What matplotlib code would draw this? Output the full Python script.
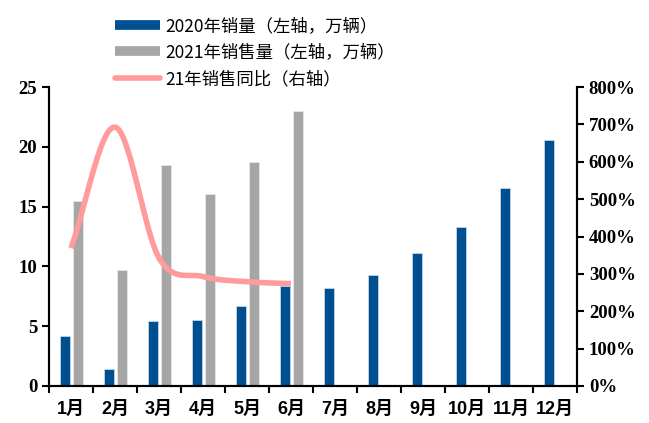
import numpy as np
import matplotlib.pyplot as plt
from matplotlib.lines import Line2D

months = ['1月', '2月', '3月', '4月', '5月', '6月', '7月', '8月', '9月', '10月', '11月', '12月']
sales_2020 = [4.2, 1.4, 5.4, 5.5, 6.7, 8.4, 8.2, 9.3, 11.1, 13.3, 16.6, 20.6]
sales_2021 = [15.5, 9.7, 18.5, 16.1, 18.7, 23.0]
ratio_2021 = [3.69, 6.93, 3.43, 2.93, 2.79, 2.74]

blue = '#00508F'
gray = '#A6A6A6'
pink = '#FF9B9B'


def catmull_rom(x, y, n=30):
    # smooth line like the spreadsheet's "smoothed line" option
    x = np.asarray(x, float)
    y = np.asarray(y, float)
    px = np.concatenate([[2 * x[0] - x[1]], x, [2 * x[-1] - x[-2]]])
    py = np.concatenate([[2 * y[0] - y[1]], y, [2 * y[-1] - y[-2]]])
    xs, ys = [], []
    t = np.linspace(0, 1, n)
    for i in range(1, len(px) - 2):
        for p, out in ((px, xs), (py, ys)):
            p0, p1, p2, p3 = p[i - 1], p[i], p[i + 1], p[i + 2]
            out.extend(0.5 * (2 * p1 + (-p0 + p2) * t
                              + (2 * p0 - 5 * p1 + 4 * p2 - p3) * t ** 2
                              + (-p0 + 3 * p1 - 3 * p2 + p3) * t ** 3))
    return np.array(xs), np.array(ys)


plt.rcParams['font.family'] = ['Liberation Serif', 'Noto Sans CJK SC']

fig = plt.figure(figsize=(6.49, 4.23), dpi=100)
ax = fig.add_axes([0.0755, 0.0875, 0.8135, 0.7065])
ax2 = ax.twinx()

x = np.arange(len(months))
w = 0.23
ax.bar(x - 0.14, sales_2020, w, color=blue, edgecolor='#BFD7EA', linewidth=0.6, zorder=2)
ax.bar(x[:len(sales_2021)] + 0.16, sales_2021, w, color=gray, edgecolor='#E6E6E6', linewidth=0.6, zorder=2)

lx, ly = catmull_rom(x[:len(ratio_2021)], ratio_2021)
ax2.plot(lx, ly, color=pink, lw=4, solid_capstyle='butt', zorder=3)

ax.set_xlim(-0.5, len(months) - 0.5)
ax.set_ylim(0, 25)
ax.set_yticks(range(0, 26, 5))
ax2.set_ylim(0, 8)
ax2.set_yticks(np.arange(0, 9))
ax2.set_yticklabels([f'{int(v * 100)}%' for v in np.arange(0, 9)])

ax.set_xticks(x)
ax.set_xticklabels(months, family=['Liberation Sans', 'Noto Sans CJK SC'], fontweight='bold', fontsize=13)
ax.set_xticks(np.arange(-0.5, len(months)), minor=True)
ax.tick_params(axis='x', which='major', length=0, pad=11)
ax.tick_params(axis='x', which='minor', length=5, width=1.5, direction='out')
ax.tick_params(axis='y', length=5, width=1.5, direction='out', labelsize=13.5)
ax2.tick_params(axis='y', length=5, width=1.5, direction='out', labelsize=13.5)
for lab in ax.get_yticklabels() + ax2.get_yticklabels():
    lab.set_fontweight('bold')

for a in (ax, ax2):
    a.spines['top'].set_visible(False)
    for s in ('left', 'right', 'bottom'):
        a.spines[s].set_linewidth(1.5)

handles = [
    Line2D([], [], color=blue, lw=7, solid_capstyle='butt'),
    Line2D([], [], color=gray, lw=7, solid_capstyle='butt'),
    Line2D([], [], color=pink, lw=4, solid_capstyle='round'),
]
labels = ['2020年销量（左轴，万辆）', '2021年销售量（左轴，万辆）', '21年销售同比（右轴）']
fig.legend(handles, labels, loc='upper left', bbox_to_anchor=(0.153, 0.997),
           frameon=False, handlelength=2.6, handletextpad=0.3, labelspacing=0.5,
           prop={'family': 'Noto Sans CJK SC', 'size': 12.5})

fig.savefig('out.png', dpi=100)
